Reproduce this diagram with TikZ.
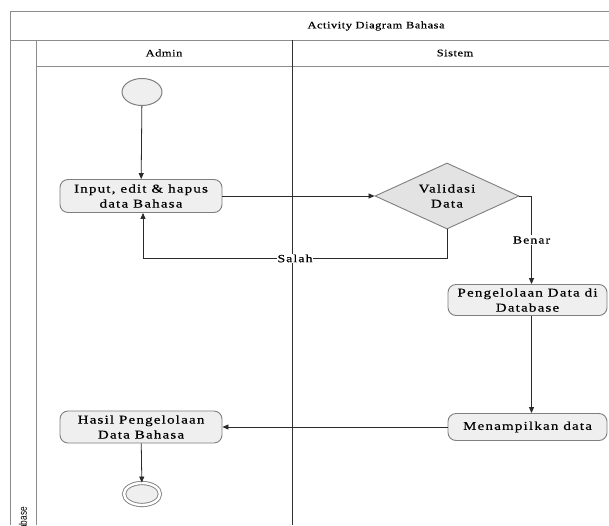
\documentclass[tikz,border=0pt]{standalone}
\usepackage{fontspec}
\setmainfont{Liberation Serif}[FakeStretch=1.25, LetterSpace=10, FakeBold=0.4]
\newfontfamily\headfont{Liberation Serif}[FakeStretch=1.25, LetterSpace=5, FakeBold=0.4]
\newfontfamily\stripfont{Liberation Sans}[FakeStretch=0.75]
\usetikzlibrary{shapes.geometric,arrows.meta,calc}

\definecolor{frameline}{HTML}{8C8C8C}
\definecolor{laneline}{HTML}{303030}
\definecolor{boxline}{HTML}{7F7F7F}
\definecolor{boxfill}{HTML}{EFEFEF}
\definecolor{flowline}{HTML}{2A2A2A}

\tikzset{
  frame/.style={draw=frameline, line width=0.8pt},
  act/.style={rectangle, rounded corners=8pt, draw=boxline, fill=boxfill,
    line width=0.9pt, align=center, inner sep=2pt,
    font=\fontsize{12}{15}\selectfont},
  decision/.style={diamond, aspect=2.2, draw=boxline, fill=boxfill!95!black,
    line width=0.9pt, align=center, inner sep=0pt,
    minimum width=144pt, minimum height=66pt,
    font=\fontsize{12}{15}\selectfont},
  startnode/.style={ellipse, draw=boxline, fill=boxfill, line width=1pt,
    minimum width=40pt, minimum height=27pt, inner sep=0pt},
  endnode/.style={ellipse, draw=boxline, fill=boxfill, line width=0.9pt,
    double=white, double distance=2.4pt,
    minimum width=36pt, minimum height=22pt, inner sep=0pt},
  flow/.style={draw=flowline, line width=0.8pt,
    -{Triangle[length=6pt,width=5pt]}},
  guard/.style={fill=white, inner sep=1pt, font=\fontsize{11}{13}\selectfont},
  header/.style={font=\headfont\fontsize{10}{12}\selectfont}
}

\begin{document}
\begin{tikzpicture}[x=1pt,y=-1pt]
  \useasboundingbox (0,0) rectangle (609,525);
  \fill[white] (0,0) rectangle (609,525);

  % swimlane frame
  \draw[frame] (10,525) -- (10,11) -- (609,11);
  \draw[frame] (10,40) -- (609,40);
  \draw[frame] (36,66) -- (609,66);
  \draw[frame] (36,40) -- (36,525);
  \draw[laneline, line width=0.8pt] (292,40) -- (292,525);

  \node[header] (title) at (376,26) {Activity Diagram Bahasa};
  \node[header] (laneA) at (164,53) {Admin};
  \node[header] (laneS) at (455,53) {Sistem};
  \node[rotate=90, anchor=east, inner sep=0pt,
        font=\stripfont\fontsize{11}{13}\selectfont] (pool) at (23,507) {Database};

  % activities
  \node[startnode] (start) at (142,92) {};
  \node[act, minimum width=162pt, minimum height=33pt] (input) at (141,196)
    {Input, edit \& hapus\\data Bahasa};
  \node[decision] (valid) at (447,196) {Validasi\\Data};
  \node[act, minimum width=159pt, minimum height=31pt] (kelola) at (527.5,300)
    {Pengelolaan Data di\\Database};
  \node[act, minimum width=159pt, minimum height=27pt] (tampil) at (527.5,427)
    {Menampilkan data};
  \node[act, minimum width=162pt, minimum height=32pt] (hasil) at (141,427)
    {Hasil Pengelolaan\\Data Bahasa};
  \node[endnode] (stop) at (142,494) {};

  % control flow
  \draw[flow] (start) -- (input);
  \draw[flow] (input.east) -- (valid.west);
  \draw[flow] (valid.east) -| node[guard, pos=0.75] {Benar}
    ($(kelola.north)+(4,0)$);
  \draw[flow] (valid.south) -- ++(0,29) -| node[guard, pos=0.25] {Salah}
    ($(input.south)+(2,0)$);
  \draw[flow] ($(kelola.south)+(4,0)$) -- ($(tampil.north)+(4,0)$);
  \draw[flow] (tampil.west) -- (hasil.east);
  \draw[flow] (hasil) -- (stop);
\end{tikzpicture}
\end{document}
